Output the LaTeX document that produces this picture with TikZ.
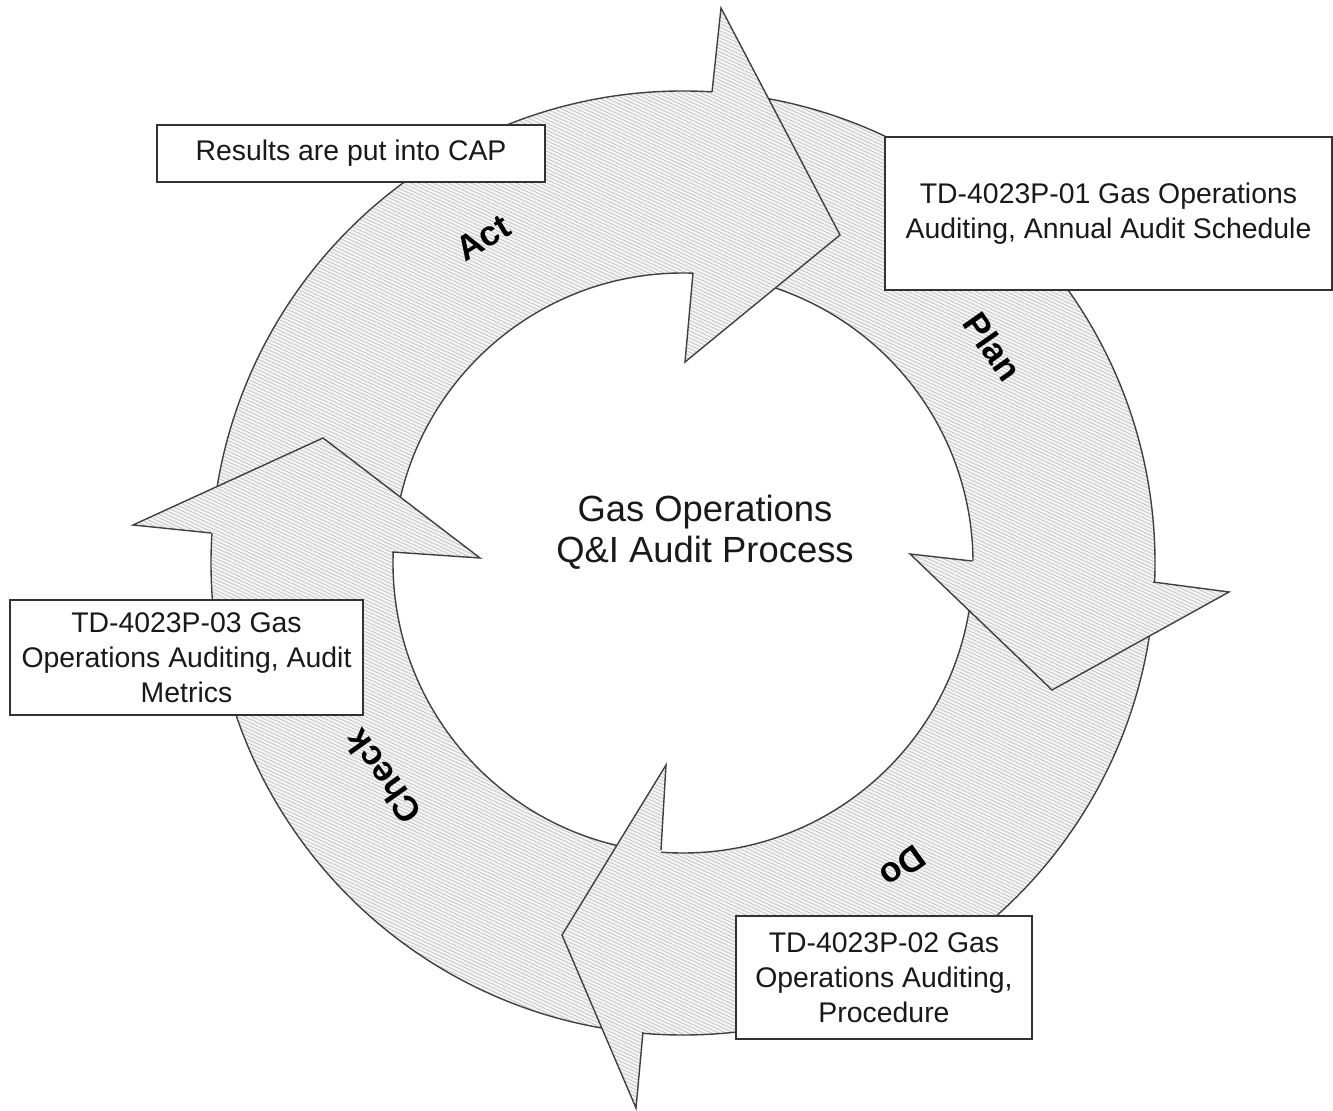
\documentclass[tikz,border=0pt]{standalone}
\usepackage{fontspec}
\setmainfont{Liberation Sans}
\usetikzlibrary{patterns.meta}
\begin{document}
\begin{tikzpicture}[x=0.5pt,y=-0.5pt,
  band/.style={even odd rule, preaction={fill=gray!9, even odd rule}, pattern={Lines[angle=-25,distance=1.6pt,line width=0.3pt]}, pattern color=gray!55},
  edge/.style={draw=black!75, line width=0.7pt, line join=miter},
  box/.style={draw=black!80, line width=0.8pt, fill=white, align=center, font=\fontsize{14.2}{17.5}\selectfont, inner sep=0pt, text=black!90},
  lbl/.style={font=\fontsize{17.5}{20}\selectfont\bfseries}]
\useasboundingbox (0,0) rectangle (1333,1111);
\coordinate (C) at (683,563);
% ring
\path[band] (C) circle[radius=472] (C) circle[radius=290];
\draw[edge] (C) circle[radius=472];
\draw[edge] (C) circle[radius=290];
% Act head
\path[band] (693,273) -- (685,362) -- (840,235) -- (721,8) -- (712,92) -- cycle;
\draw[edge] (693,273) -- (685,362) -- (840,235) -- (721,8) -- (712,92);
% Plan head
\path[band] (972,561) -- (910,554) -- (1052,690) -- (1229,592) -- (1153,582) -- cycle;
\draw[edge] (972,561) -- (910,554) -- (1052,690) -- (1229,592) -- (1153,582);
% Do head
\path[band] (661,850) -- (666,765) -- (562,935) -- (636,1108) -- (643,1032) -- cycle;
\draw[edge] (661,850) -- (666,765) -- (562,935) -- (636,1108) -- (643,1032);
% Check head
\path[band] (392,552) -- (480,558) -- (323,438) -- (133,525) -- (211,533) -- cycle;
\draw[edge] (392,552) -- (480,558) -- (323,438) -- (133,525) -- (211,533);
% labels
\node[lbl, rotate=31.6] (act) at (483,238) {Act};
\node[lbl, rotate=-55] (plan) at (993,347) {Plan};
\node[lbl, rotate=-144] (do) at (903,867) {Do};
\node[lbl, rotate=125.5] (check) at (383,777) {Check};
% centre
\node[font=\fontsize{18.2}{20.5}\selectfont, align=center, text=black!90] (title) at (705,532) {Gas Operations\\Q\&I Audit Process};
% boxes
\node[box, minimum width=194pt, minimum height=28.5pt] (cap) at (351,153.5) {Results are put into CAP};
\node[box, minimum width=223.5pt, minimum height=76.5pt] (p1) at (1108.5,213.5) {TD-4023P-01 Gas Operations\\Auditing, Annual Audit Schedule};
\node[box, minimum width=176.5pt, minimum height=57.5pt] (p3) at (186.5,657.5) {TD-4023P-03 Gas\\Operations Auditing, Audit\\Metrics};
\node[box, minimum width=148pt, minimum height=61.5pt] (p2) at (884,977.5) {TD-4023P-02 Gas\\Operations Auditing,\\Procedure};
\end{tikzpicture}
\end{document}
